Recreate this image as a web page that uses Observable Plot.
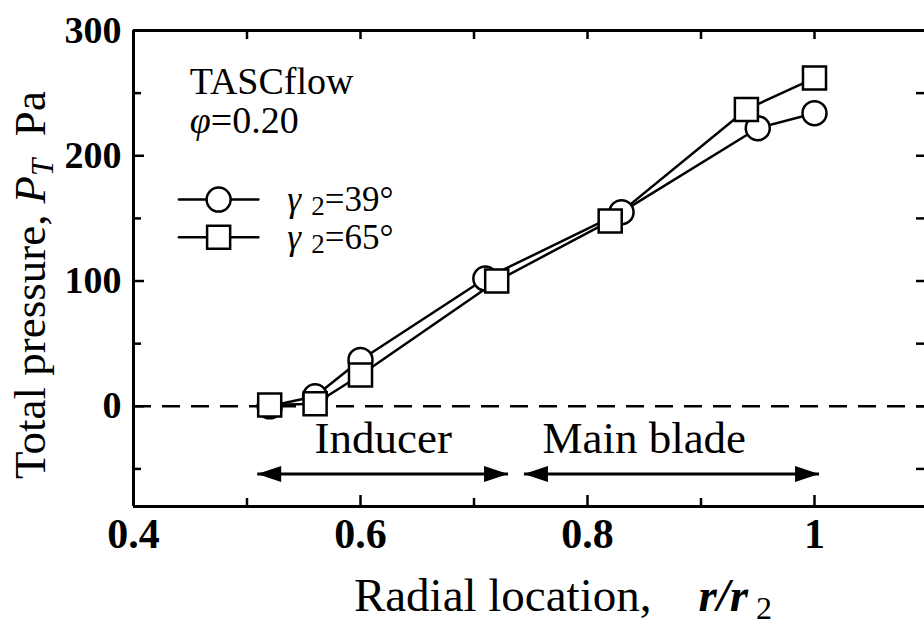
<!DOCTYPE html>
<html><head><meta charset="utf-8">
<script src="https://cdn.jsdelivr.net/npm/d3@7"></script>
<script src="https://cdn.jsdelivr.net/npm/@observablehq/plot@0.6"></script>
<style>html,body{margin:0;padding:0;background:#fff;overflow:hidden}</style>
</head><body><div id="chart"></div>
<script>
// --- data ---
const r39 = [0.52, 0.56, 0.60, 0.71, 0.83, 0.95, 1.00];
const p39 = [0, 8, 37, 102, 155, 222, 234];
const r65 = [0.52, 0.56, 0.60, 0.72, 0.82, 0.94, 1.00];
const p65 = [1, 2, 25, 100, 148, 237, 262];
const seriesKeys = ["39", "65"];
const seriesAngles = ["39°", "65°"];
const xTicks = [0.4, 0.6, 0.8, 1.0];
const xTickLabels = ["0.4", "0.6", "0.8", "1"];
const xMinor = [0.5, 0.7, 0.9];
const yTicks = [0, 100, 200, 300];
const yMinor = [-50, 50, 150, 250];
const xDomain = [0.4, 1.1];
const yDomain = [-80, 300];
const regionNames = ["Inducer", "Main blade"];
const regionFrom = [0.509, 0.744];
const regionTo = [0.730, 1.004];
const regionLabelX = [0.62, 0.85];
const regionLabelY = -26;
const regionArrowY = -54;
const legendLineX = [0.44, 0.51];
const legendMarkerX = 0.475;
const legendTextX = 0.536;
const legendY = [165, 135];
const noteX = 0.45;
const noteY = [249, 218];

// --- build tables ---
const rows39 = r39.map((r, i) => ({r, p: p39[i], s: seriesKeys[0]}));
const rows65 = r65.map((r, i) => ({r, p: p65[i], s: seriesKeys[1]}));
const regions = regionNames.map((name, i) => ({name, from: regionFrom[i], to: regionTo[i], lx: regionLabelX[i], ly: regionLabelY, ay: regionArrowY}));
const legendLines = legendY.flatMap((y, i) => legendLineX.map(x => ({x, y, s: seriesKeys[i]})));
const legend39 = [{x: legendMarkerX, y: legendY[0]}];
const legend65 = [{x: legendMarkerX, y: legendY[1]}];

const W = 924, H = 625, ML = 133, MT = 30, MB = 119;
const plotW = W - ML, plotH = H - MT - MB;
const serif = "'Liberation Serif', 'DejaVu Serif', serif";
const arrowHead = {draw(ctx) { const L = 24, w = 8; ctx.moveTo(0, 0); ctx.lineTo(w, L); ctx.lineTo(-w, L); ctx.closePath(); }};

const chart = Plot.plot({
  width: W, height: H,
  marginLeft: ML, marginRight: 0, marginTop: MT, marginBottom: MB,
  x: {domain: xDomain, range: [ML, ML + 794.5]},
  y: {domain: yDomain},
  style: {fontFamily: serif, background: "white", color: "black"},
  marks: [
    Plot.ruleY([0], {stroke: "black", strokeWidth: 2.5, strokeDasharray: "18,11"}),
    // frame (right edge lies just outside the picture)
    Plot.ruleX([xDomain[0]], {stroke: "black", strokeWidth: 3}),
    Plot.ruleY(yDomain, {stroke: "black", strokeWidth: 3}),
    // inward ticks
    Plot.tickX(xTicks, {x: d => d, stroke: "black", strokeWidth: 2.5, insetTop: plotH - 11}),
    Plot.tickX(xMinor, {x: d => d, stroke: "black", strokeWidth: 2.5, insetTop: plotH - 8}),
    Plot.tickX(xTicks.concat(xMinor), {x: d => d, stroke: "black", strokeWidth: 2.5, insetBottom: plotH - 9}),
    Plot.tickY(yTicks, {y: d => d, stroke: "black", strokeWidth: 2.5, insetRight: plotW - 11}),
    Plot.tickY(yMinor, {y: d => d, stroke: "black", strokeWidth: 2.5, insetRight: plotW - 8}),
    Plot.tickY(yTicks.concat(yMinor), {y: d => d, stroke: "black", strokeWidth: 2.5, insetLeft: plotW - 8}),
    Plot.axisX(xTicks, {anchor: "bottom", tickSize: 0, tickPadding: 12, fontSize: 42, fontWeight: "bold", tickFormat: d => xTickLabels[xTicks.indexOf(d)], label: null}),
    Plot.axisY(yTicks, {anchor: "left", tickSize: 0, tickPadding: 12, fontSize: 38, fontWeight: "bold", label: null}),
    // series
    Plot.line(rows39, {x: "r", y: "p", stroke: "black", strokeWidth: 2.5}),
    Plot.line(rows65, {x: "r", y: "p", stroke: "black", strokeWidth: 2.5}),
    Plot.dot(rows39, {x: "r", y: "p", r: 12, symbol: "circle", stroke: "black", strokeWidth: 2.5, fill: "white"}),
    Plot.dot(rows65, {x: "r", y: "p", r: 13, symbol: "square", stroke: "black", strokeWidth: 2.5, fill: "white"}),
    // legend
    Plot.line(legendLines, {x: "x", y: "y", z: "s", stroke: "black", strokeWidth: 2.5}),
    Plot.dot(legend39, {x: "x", y: "y", r: 12, symbol: "circle", stroke: "black", strokeWidth: 2.5, fill: "white"}),
    Plot.dot(legend65, {x: "x", y: "y", r: 13, symbol: "square", stroke: "black", strokeWidth: 2.5, fill: "white"}),
    // region arrows
    Plot.link(regions, {x1: "from", x2: "to", y1: "ay", y2: "ay", stroke: "black", strokeWidth: 3}),
    Plot.dot(regions, {x: "from", y: "ay", symbol: arrowHead, rotate: -90, fill: "black", stroke: null}),
    Plot.dot(regions, {x: "to", y: "ay", symbol: arrowHead, rotate: 90, fill: "black", stroke: null}),
    Plot.text(regions, {x: "lx", y: "ly", text: "name", fontSize: 45, fill: "black"})
  ]
});
document.getElementById("chart").appendChild(chart);

// --- texts with mixed styles ---
const sx = chart.scale("x"), sy = chart.scale("y");
const svg = d3.select(chart);
const g = svg.append("g").attr("font-family", serif).attr("fill", "black").attr("text-anchor", "start");

// TASCflow note
g.append("text").attr("x", sx.apply(noteX)).attr("y", sy.apply(noteY[0])).attr("font-size", 38).text("TASCflow");
const phi = g.append("text").attr("x", sx.apply(noteX)).attr("y", sy.apply(noteY[1])).attr("font-size", 38);
phi.append("tspan").attr("font-style", "italic").text("φ");
phi.append("tspan").text("=0.20");

// legend labels
legendY.forEach((y, i) => {
  const t = g.append("text").attr("x", sx.apply(legendTextX)).attr("y", sy.apply(y) + 12).attr("font-size", 35);
  t.append("tspan").attr("font-style", "italic").text("γ");
  t.append("tspan").attr("font-size", 27).attr("dx", 10).attr("dy", 4).text("2");
  t.append("tspan").attr("dy", -4).text("=" + seriesAngles[i]);
});

// y axis title
const yt = g.append("text").attr("transform", `translate(45,${MT + 255}) rotate(-90)`).attr("text-anchor", "middle").attr("font-size", 45);
yt.append("tspan").text("Total pressure, ");
yt.append("tspan").attr("font-style", "italic").text("P");
yt.append("tspan").attr("font-style", "italic").attr("font-size", 31).attr("dy", 8).text("T");
yt.append("tspan").attr("dy", -8).text("\u00A0\u00A0Pa");

// x axis title
const xt = g.append("text").attr("x", 563).attr("y", 611).attr("text-anchor", "middle").attr("font-size", 47);
xt.append("tspan").text("Radial location,\u00A0\u00A0\u00A0\u00A0");
xt.append("tspan").attr("font-style", "italic").attr("font-weight", "bold").text("r/r");
xt.append("tspan").attr("font-size", 32).attr("dy", 8).text("\u00A02");
</script>
</body></html>
